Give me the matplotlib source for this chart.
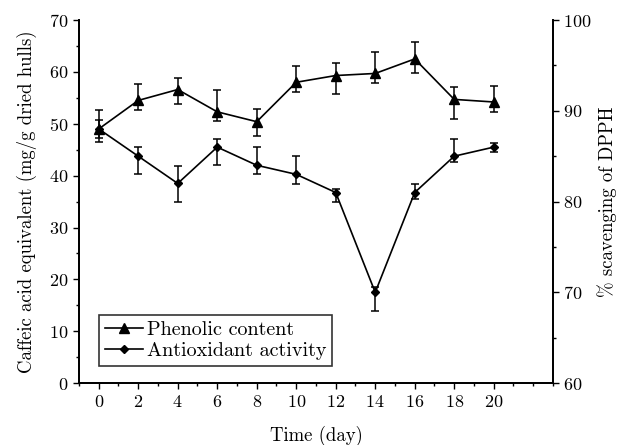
import matplotlib
matplotlib.use('Agg')
import matplotlib.pyplot as plt
from matplotlib.lines import Line2D
from matplotlib.ticker import MultipleLocator

# Data

days = [0, 2, 4, 6, 8, 10, 12, 14, 16, 18, 20]

phenolic = [49.0, 54.5, 56.6, 52.3, 50.4, 58.0, 59.3, 59.7, 62.5, 54.7, 54.2]
phenolic_lo = [2.6, 1.8, 2.8, 1.8, 2.8, 1.8, 3.6, 1.8, 2.8, 3.7, 2.0]
phenolic_hi = [3.6, 3.1, 2.2, 4.2, 2.4, 3.2, 2.4, 4.1, 3.3, 2.3, 3.0]

antioxidant = [88.0, 85.0, 82.0, 86.0, 84.0, 83.0, 81.0, 70.0, 81.0, 85.0, 86.0]
antioxidant_lo = [1.0, 2.0, 2.0, 2.0, 1.0, 1.1, 1.0, 2.1, 0.7, 0.6, 0.5]
antioxidant_hi = [1.0, 1.0, 1.9, 0.9, 2.0, 2.0, 0.4, 0.6, 0.9, 1.9, 0.5]

plt.rcParams['font.family'] = ['cmr10', 'DejaVu Serif']
plt.rcParams['axes.formatter.use_mathtext'] = True
plt.rcParams['font.size'] = 13

fig = plt.figure(figsize=(6.22, 4.45), dpi=100)
ax = fig.add_axes([0.127, 0.139, 0.762, 0.816])
ax2 = ax.twinx()

ax.errorbar(days, phenolic, yerr=[phenolic_lo, phenolic_hi], color='black',
            marker='^', markersize=6.5, linewidth=1.2, capsize=3,
            elinewidth=1.1, capthick=1.1)
ax2.errorbar(days, antioxidant, yerr=[antioxidant_lo, antioxidant_hi],
             color='black', marker='D', markersize=4.5, linewidth=1.2,
             capsize=3, elinewidth=1.1, capthick=1.1)

ax.set_xlim(-1, 23)
ax.set_ylim(0, 70)
ax2.set_ylim(60, 100)

ax.xaxis.set_minor_locator(MultipleLocator(1))
ax.set_xticks(days)
ax.yaxis.set_major_locator(MultipleLocator(10))
ax.yaxis.set_minor_locator(MultipleLocator(5))
ax2.yaxis.set_major_locator(MultipleLocator(10))
ax2.yaxis.set_minor_locator(MultipleLocator(5))

for a in (ax, ax2):
    a.spines['top'].set_visible(False)
    a.tick_params(which='major', direction='out', length=4, width=1)
    a.tick_params(which='minor', direction='out', length=2.5, width=1)
    for s in a.spines.values():
        s.set_linewidth(1.3)

ax.set_xlabel('Time (day)', labelpad=12, fontsize=13.5)
ax.set_ylabel('Caffeic acid equivalent (mg/g dried hulls)', fontsize=13.5,
              labelpad=9)
ax2.set_ylabel('% scavenging of DPPH', labelpad=4, fontsize=13.5)

handles = [Line2D([], [], color='black', marker='^', markersize=6.5,
                  linewidth=1.2),
           Line2D([], [], color='black', marker='D', markersize=4.5,
                  linewidth=1.2)]
leg = ax.legend(handles, ['Phenolic content', 'Antioxidant activity'],
                loc='lower left', bbox_to_anchor=(0.02, 0.02), frameon=True,
                fancybox=False, edgecolor='black', handlelength=1.9,
                handletextpad=0.2, borderpad=0.3, labelspacing=0.15,
                fontsize=14.5)
leg.get_frame().set_linewidth(1.2)

fig.savefig('out.png', dpi=100)
